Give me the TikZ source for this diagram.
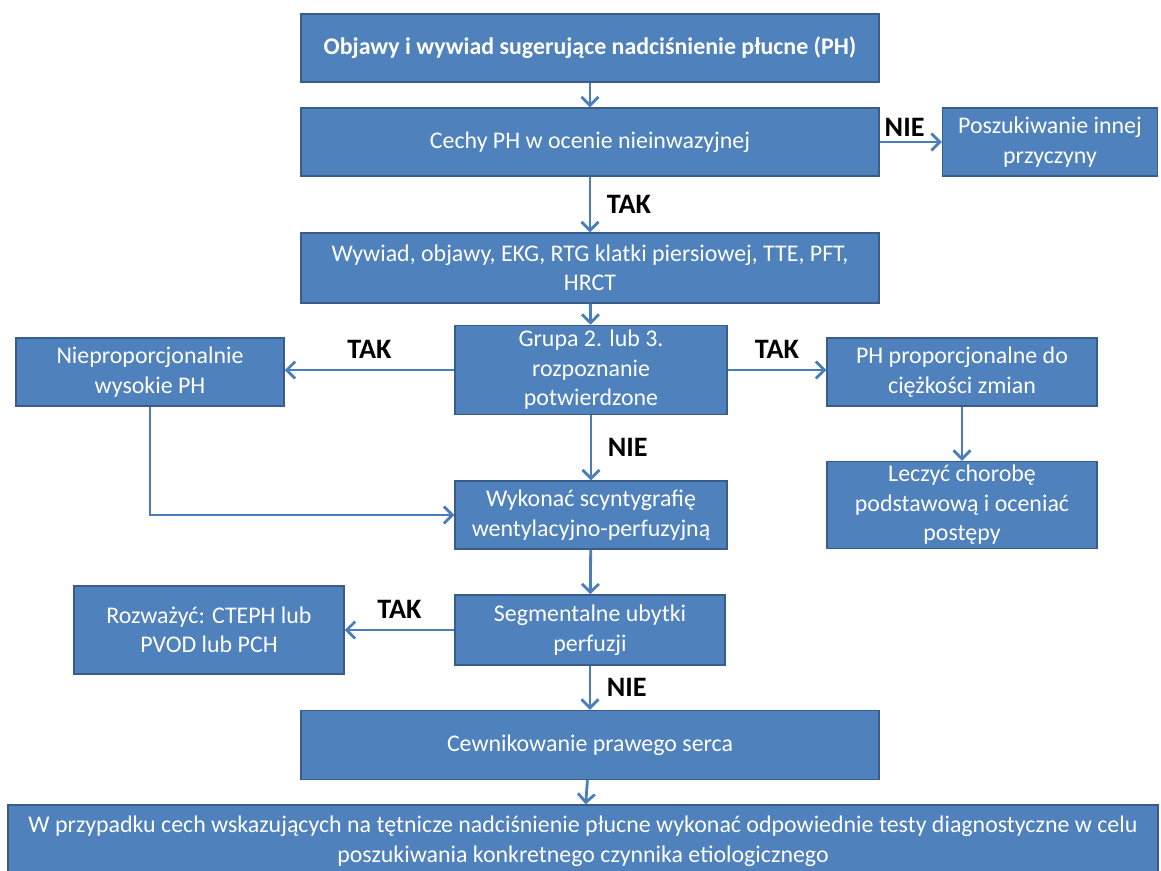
\documentclass[tikz,border=0pt]{standalone}
\usepackage{fontspec}
\setmainfont{Carlito}
\usetikzlibrary{arrows.meta,positioning}
\definecolor{boxblue}{HTML}{4F81BD}
\definecolor{boxedge}{HTML}{385D8A}
\definecolor{lineblue}{HTML}{4A7EBB}

\begin{document}
\begin{tikzpicture}[x=0.025cm, y=-0.025cm,
        box/.style={rectangle, draw=boxedge, line width=1pt, fill=boxblue, text=white, align=center, font=\fontsize{17}{21}\selectfont, minimum width=6.8cm, minimum height=1.7cm, inner sep=2pt},
        wide/.style={box, minimum width=14.45cm},
        lab/.style={font=\fontsize{20}{24}\selectfont\bfseries, text=black, inner sep=3pt},
        arrow/.style={-{Straight Barb[length=6pt,width=12pt]}, line width=2pt, draw=lineblue}
    ]
    \useasboundingbox (0,0) rectangle (1161,870);

    \node[wide, font=\fontsize{17}{21}\selectfont\bfseries] (objawy) at (590,48) {Objawy i wywiad sugerujące nadciśnienie płucne (PH)};
    \node[wide] (cechy) at (590,142) {Cechy PH w ocenie nieinwazyjnej};
    \node[box, minimum width=5.375cm] (inna) at (1050,142) {Poszukiwanie innej\\przyczyny};
    \node[wide, minimum height=1.75cm] (wywiad) at (590,268) {Wywiad, objawy, EKG, RTG klatki piersiowej, TTE, PFT,\\HRCT};
    \node[box, minimum height=2.225cm] (grupa) at (591,370) {Grupa 2. lub 3.\\rozpoznanie\\potwierdzone};
    \node[box, minimum width=6.7cm] (wysokie) at (150,372) {Nieproporcjonalnie\\wysokie PH};
    \node[box, minimum width=6.75cm] (proporc) at (962,372) {PH proporcjonalne do\\ciężkości zmian};
    \node[box, minimum width=6.75cm, minimum height=2.175cm] (leczyc) at (962,505) {Leczyć chorobę\\podstawową i oceniać\\postępy};
    \node[box] (scynty) at (591,515) {Wykonać scyntygrafię\\wentylacyjno-perfuzyjną};
    \node[box, minimum width=6.75cm, minimum height=2.2cm] (rozwaz) at (209,630) {Rozważyć: CTEPH lub\\PVOD lub PCH};
    \node[box, minimum width=6.75cm, minimum height=1.75cm] (ubytki) at (590,630) {Segmentalne ubytki\\perfuzji};
    \node[wide, minimum height=1.725cm] (cewnik) at (590,745) {Cewnikowanie prawego serca};
    \node[box, minimum width=28.75cm, minimum height=1.8cm] (testy) at (583,841) {W przypadku cech wskazujących na tętnicze nadciśnienie płucne wykonać odpowiednie testy diagnostyczne w celu\\poszukiwania konkretnego czynnika etiologicznego};

    \draw[arrow] (objawy) -- (cechy);
    \draw[arrow] (cechy) -- node[lab, above, pos=0.4] {NIE} (inna);
    \draw[arrow] (cechy) -- node[lab, right, xshift=8pt] {TAK} (wywiad);
    \draw[arrow] (wywiad) -- (grupa);
    \draw[arrow] (grupa) -- node[lab, above, yshift=4pt] {TAK} (wysokie.east |- grupa);
    \draw[arrow] (grupa) -- node[lab, above, yshift=4pt] {TAK} (proporc.west |- grupa);
    \draw[arrow] (proporc) -- (leczyc);
    \draw[arrow] (grupa) -- node[lab, right, xshift=8pt] {NIE} (scynty);
    \draw[arrow] (wysokie.south) |- (scynty.west);
    \draw[arrow] (scynty) -- (ubytki);
    \draw[arrow] (ubytki) -- node[lab, above, yshift=4pt] {TAK} (rozwaz);
    \draw[arrow] (ubytki) -- node[lab, right, xshift=8pt] {NIE} (cewnik);
    \draw[arrow] (cewnik) -- (testy);

\end{tikzpicture}
\end{document}
